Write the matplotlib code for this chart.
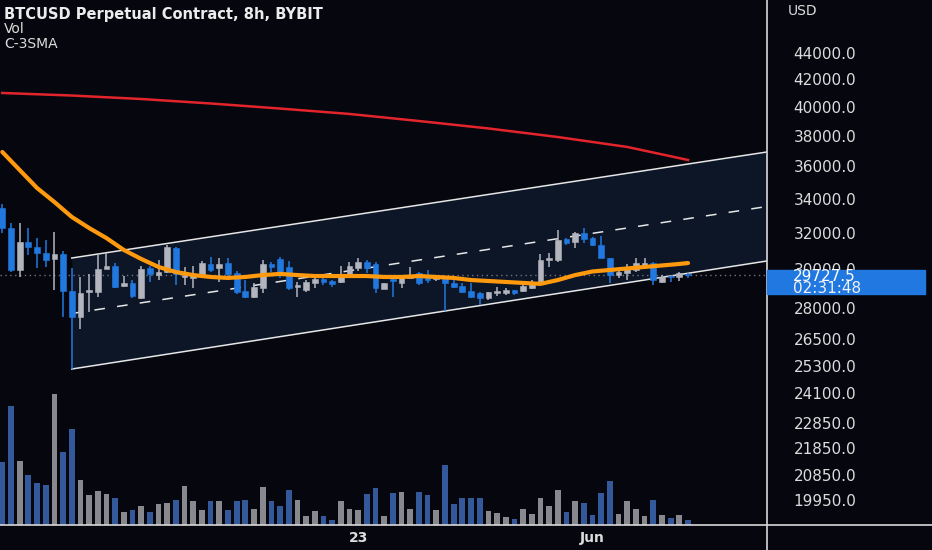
import matplotlib
matplotlib.use('Agg')
import matplotlib.pyplot as plt
import numpy as np
import pandas as pd
from matplotlib.patches import Rectangle
from matplotlib.lines import Line2D
from matplotlib.ticker import FixedLocator, NullLocator

# 8h candles, BTCUSD perp on Bybit
dates = pd.date_range('2022-05-09 08:00', periods=80, freq='8h')

opens = [33440, 32280, 29970, 31490, 31210, 30880, 30560, 30830, 28870, 27580,
         28820, 28820, 30020, 30180, 29130, 29290, 28520, 30070, 29700, 29860,
         31160, 29600, 29550, 29700, 30290, 30070, 30340, 29810, 28870, 28570,
         29030, 30290, 30560, 30130, 29080, 28920, 29290, 29490, 29390, 29340,
         29650, 30070, 30400, 30290, 28980, 29490, 29290, 29550, 29810, 29700,
         29490, 29550, 29290, 29130, 28870, 28770, 28520, 28770, 28770, 28920,
         28870, 29030, 29340, 30500, 30500, 31660, 31490, 32000, 31710, 31320,
         30610, 29700, 29810, 29970, 30230, 30340, 29340, 29660, 29600, 29780]
highs = [33680, 32570, 32570, 32280, 31710, 31600, 32050, 30990, 30070, 29600,
         29760, 30880, 30880, 30340, 29650, 29440, 30180, 30180, 30500, 31320,
         31210, 30130, 30180, 30450, 30670, 30610, 30610, 29910, 29440, 29290,
         30500, 30400, 30670, 30450, 29340, 29440, 29600, 29550, 29440, 30180,
         30400, 30610, 30500, 30400, 29290, 29550, 29700, 30130, 29860, 29970,
         29700, 29650, 29650, 29290, 29290, 28820, 28820, 29080, 29030, 28920,
         29390, 29440, 30830, 30880, 32170, 31710, 32050, 32280, 31770, 31830,
         30620, 29970, 30290, 30610, 30610, 30400, 29700, 29660, 29860, 29810]
lows = [32000, 29860, 29600, 30770, 30070, 30130, 28930, 27580, 25150, 27000,
        27820, 28570, 30000, 29030, 29080, 28520, 28470, 29340, 29440, 29810,
        29180, 29180, 29030, 29690, 29860, 29340, 29550, 28720, 28520, 28520,
        28770, 29860, 29550, 28920, 28570, 28820, 29030, 29180, 29080, 29290,
        29600, 29910, 29810, 28770, 28980, 28570, 29030, 29540, 29180, 29290,
        29390, 27870, 29030, 28770, 28520, 28170, 28420, 28620, 28670, 28670,
        28820, 28980, 29290, 30130, 30400, 31320, 31160, 31430, 31270, 30600,
        29290, 29550, 29440, 29860, 30180, 29180, 29290, 29340, 29390, 29550]
closes = [32280, 29970, 31490, 31210, 30880, 30500, 30830, 28870, 27580, 28770,
          28920, 30020, 30180, 29080, 29290, 28620, 30020, 29760, 29860, 31210,
          29760, 29700, 29760, 30340, 29970, 30290, 29760, 28820, 28570, 29080,
          30290, 30130, 29760, 29030, 29180, 29340, 29490, 29340, 29230, 29700,
          30180, 30400, 30070, 29030, 29290, 29390, 29600, 29700, 29290, 29440,
          29600, 29290, 29080, 28820, 28570, 28520, 28820, 28870, 28920, 28770,
          29130, 29340, 30500, 30610, 31600, 31430, 32000, 31660, 31320, 30610,
          29700, 29860, 30130, 30340, 30340, 29440, 29600, 29590, 29810, 29727.5]
volume = [189, 357, 193, 151, 125, 120, 393, 219, 289, 135,
          90, 102, 92, 82, 39, 46, 56, 39, 62, 65,
          74, 116, 71, 45, 72, 73, 45, 71, 75, 49,
          113, 73, 57, 104, 75, 27, 41, 26, 15, 73,
          49, 45, 93, 111, 26, 95, 98, 47, 98, 90,
          45, 179, 64, 81, 82, 82, 41, 37, 24, 18,
          47, 32, 81, 57, 104, 39, 73, 67, 29, 96,
          132, 32, 72, 49, 28, 76, 30, 20, 30, 15]

# C-3SMA: fast (orange) and slow (red) averages, read every few bars
fast_idx = [0, 2, 4, 6, 8, 10, 12, 14, 16, 18, 20, 22, 24, 26, 28, 30, 32, 34, 36, 38,
            40, 42, 44, 46, 48, 50, 52, 54, 56, 58, 60, 62, 64, 66, 68, 70, 72, 74, 76, 78, 79]
fast_sma = [36930, 35770, 34650, 33800, 32920, 32280, 31710, 31050, 30560, 30130,
            29860, 29700, 29600, 29550, 29600, 29700, 29760, 29700, 29650, 29650,
            29650, 29650, 29600, 29600, 29650, 29600, 29550, 29440, 29390, 29340,
            29290, 29240, 29440, 29700, 29890, 29970, 30050, 30130, 30210, 30290, 30340]
slow_idx = [0, 8, 16, 24, 32, 40, 48, 56, 64, 72, 79]
slow_sma = [40995, 40810, 40560, 40240, 39880, 39500, 39010, 38500, 37920, 37260, 36410]

# parallel channel drawing (anchor bar -> right edge)
channel_x = [8, 88.1]
channel_lower = [25150, 30450]
channel_upper = [30610, 36930]

price_ticks = [44000, 42000, 40000, 38000, 36000, 34000, 32000, 30000,
               28000, 26500, 25300, 24100, 22850, 21850, 20850, 19950]
countdown = '02:31:48'

BG = '#06060f'
UP = '#b2b5be'
DOWN = '#2179df'
VOL_UP = '#88898f'
VOL_DOWN = '#34599b'
TXT = '#dcdcdc'

W, H = 932, 550
fig = plt.figure(figsize=(W / 100, H / 100), dpi=100, facecolor=BG)
rect = [0, 25 / H, 767 / W, 525 / H]
axv = fig.add_axes(rect)
ax = fig.add_axes(rect, sharex=axv)
axv.set_facecolor(BG)
ax.patch.set_alpha(0)

x = np.arange(len(dates))
o = np.array(opens)
c = np.array(closes)
up = c >= o
col = np.where(up, UP, DOWN)

# volume underneath
axv.bar(x, volume, width=0.66, color=np.where(up, VOL_UP, VOL_DOWN), linewidth=0)
axv.set_ylim(0, 1575)
axv.axis('off')

ax.set_yscale('log')

# channel
cl = np.array(channel_lower)
cu = np.array(channel_upper)
ax.fill_between(channel_x, cl, cu, color='#0c1627', zorder=0.5, linewidth=0)
ax.plot(channel_x, cu, color='#e6e6e6', lw=1.1, zorder=1)
ax.plot(channel_x, cl, color='#e6e6e6', lw=1.1, zorder=1)
ax.plot(channel_x, np.sqrt(cl * cu), color='#e6e6e6', lw=1.1, ls=(0, (7, 8)), zorder=1)

# last price line
ax.axhline(closes[-1], color='#70737d', lw=1, ls=(0, (1, 2.5)), zorder=1)

# candles
ax.vlines(x, lows, highs, colors=col, lw=1.1, zorder=2)
ax.bar(x, np.abs(c - o), bottom=np.minimum(o, c), width=0.66, color=col,
       edgecolor=col, linewidth=0.4, zorder=3)

ax.plot(slow_idx, slow_sma, color='#e3242b', lw=1.8, zorder=4)
ax.plot(fast_idx, fast_sma, color='#ff9a0e', lw=3, zorder=4, solid_capstyle='round')

ax.set_xlim(-0.265, 88.1)
ax.set_ylim(19083, 48327)

ax.yaxis.set_major_locator(FixedLocator(price_ticks))
ax.yaxis.set_minor_locator(NullLocator())
ax.set_yticklabels([f'{v:.1f}' for v in price_ticks])
ax.yaxis.tick_right()
ax.tick_params(axis='y', length=0, pad=19, labelsize=11, labelcolor=TXT)

tick_dates = [pd.Timestamp('2022-05-23'), pd.Timestamp('2022-06-01')]
ax.set_xticks([list(dates).index(d) for d in tick_dates])
ax.set_xticklabels(['23', 'Jun'])
ax.tick_params(axis='x', length=0, pad=4, labelsize=10, labelcolor=TXT)
for t in ax.get_xticklabels():
    t.set_fontweight('bold')
for s in ax.spines.values():
    s.set_visible(False)

# pane separators
fig.add_artist(Line2D([767 / W] * 2, [0, 1], color='#d8d8d8', lw=1.2))
fig.add_artist(Line2D([0, 1], [25 / H] * 2, color='#d8d8d8', lw=1.2))

fig.text(4 / W, 1 - 14 / H, 'BTCUSD Perpetual Contract, 8h, BYBIT', fontsize=10.5,
         weight='bold', color='#ececec', va='center')
fig.text(4 / W, 1 - 29 / H, 'Vol', fontsize=10, color=TXT, va='center')
fig.text(4 / W, 1 - 44 / H, 'C-3SMA', fontsize=10, color=TXT, va='center')
fig.text(788 / W, 1 - 11 / H, 'USD', fontsize=10, color=TXT, va='center')

# last price tag on the scale
y_disp = ax.transData.transform((0, closes[-1]))[1]
fig.add_artist(Rectangle((767 / W, (y_disp - 19.5) / H), 158 / W, 24.5 / H,
                         transform=fig.transFigure, color='#2178e0', zorder=10))
fig.text(793 / W, (y_disp - 1.5) / H, f'{closes[-1]:.1f}', fontsize=11,
         color='white', va='center', zorder=11)
fig.text(793 / W, (y_disp - 13.5) / H, countdown, fontsize=11,
         color='#f0f0f0', va='center', zorder=11)

fig.savefig('out.png', dpi=100, facecolor=BG)
